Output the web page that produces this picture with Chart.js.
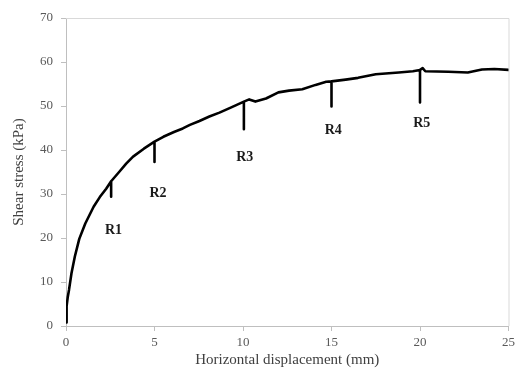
<!DOCTYPE html>
<html>
<head>
<meta charset="utf-8">
<script src="https://cdn.jsdelivr.net/npm/chart.js@4/dist/chart.umd.min.js"></script>
<style>
  html, body { margin: 0; padding: 0; background: #fff; }
  #wrap { width: 519px; height: 376px; position: relative; }
</style>
</head>
<body>
<div id="wrap"><canvas id="shearChart"></canvas></div>
<script>
// Shear stress vs horizontal displacement, with the R1..R5 drops

const dispMm = [
  0, 0.02, 0.05, 0.1, 0.17, 0.31, 0.5, 0.75, 1.09, 1.56,
  1.91, 2.27, 2.55, 2.55, 2.55, 3.0, 3.4, 3.79,
  4.4, 5.0, 5.0, 5.0, 5.5, 6.1, 6.6, 7.0, 7.54, 8.1,
  8.67, 9.4, 10.05, 10.05, 10.05, 10.35, 10.7, 11.3, 12.0, 12.6,
  13.35, 14.1, 14.7, 15.0, 15.0, 15.0, 15.8, 16.5, 17.5, 18.8,
  19.6, 20.0, 20.0, 20.0, 20.15, 20.3, 21.6, 22.7, 23.5, 24.2,
  25.0
];
const stressKPa = [
  0.8, 2.2, 4.5, 6.6, 8.2, 12.0, 15.8, 19.8, 23.3, 27.1,
  29.3, 31.2, 32.9, 29.4, 32.9, 35.0, 36.9, 38.5,
  40.3, 41.9, 37.3, 41.9, 43.0, 44.1, 44.9, 45.7, 46.6, 47.6,
  48.5, 49.8, 51.0, 44.7, 51.0, 51.5, 51.0, 51.7, 53.1, 53.5,
  53.8, 54.8, 55.5, 55.6, 49.9, 55.6, 56.0, 56.4, 57.2, 57.6,
  57.9, 58.2, 50.8, 58.2, 58.6, 57.9, 57.8, 57.6, 58.3, 58.4,
  58.2
];

const markerNames = ['R1', 'R2', 'R3', 'R4', 'R5'];
const markerX = [2.68, 5.2, 10.1, 15.1, 20.1];
const markerY = [21.8, 30.2, 38.3, 44.4, 46.1];

const xTicks = [0, 5, 10, 15, 20, 25];
const yTicks = [0, 10, 20, 30, 40, 50, 60, 70];

const serif = '"Liberation Serif", "Times New Roman", serif';

const points = dispMm.map((x, i) => ({ x: x, y: stressKPa[i] }));

// light frame on the top and right of the plot area
const plotFrame = {
  id: 'plotFrame',
  beforeDatasetsDraw(chart) {
    const { ctx, chartArea: a } = chart;
    ctx.save();
    ctx.strokeStyle = '#d9d9d9';
    ctx.lineWidth = 1;
    ctx.beginPath();
    ctx.moveTo(a.left, a.top + 0.5);
    ctx.lineTo(a.right + 0.5, a.top + 0.5);
    ctx.lineTo(a.right + 0.5, a.bottom);
    ctx.stroke();
    ctx.restore();
  }
};

const markerLabels = {
  id: 'markerLabels',
  afterDatasetsDraw(chart) {
    const { ctx, scales } = chart;
    ctx.save();
    ctx.font = 'bold 14px ' + serif;
    ctx.fillStyle = '#1a1a1a';
    ctx.textAlign = 'center';
    ctx.textBaseline = 'middle';
    markerNames.forEach((name, i) => {
      ctx.fillText(name, scales.x.getPixelForValue(markerX[i]), scales.y.getPixelForValue(markerY[i]));
    });
    ctx.restore();
  }
};

new Chart(document.getElementById('shearChart'), {
  type: 'scatter',
  data: {
    datasets: [{
      data: points,
      showLine: true,
      borderColor: '#000',
      borderWidth: 2.6,
      borderJoinStyle: 'round',
      borderCapStyle: 'round',
      pointRadius: 0,
      tension: 0
    }]
  },
  options: {
    responsive: true,
    maintainAspectRatio: false,
    animation: false,
    layout: { padding: { top: 18, right: 9, bottom: 0, left: 0 } },
    plugins: {
      legend: { display: false },
      tooltip: { enabled: false }
    },
    scales: {
      x: {
        type: 'linear',
        min: 0,
        max: 25,
        afterBuildTicks: (s) => { s.ticks = xTicks.map(v => ({ value: v })); },
        afterFit: (s) => { s.height = 50; },
        ticks: { color: '#595959', font: { family: serif, size: 13 }, padding: 4 },
        grid: { drawOnChartArea: false, drawTicks: true, tickLength: 5, color: '#bfbfbf' },
        border: { color: '#bfbfbf' },
        title: {
          display: true,
          text: 'Horizontal displacement (mm)',
          color: '#404040',
          font: { family: serif, size: 15 },
          padding: { top: 0, bottom: 7 }
        }
      },
      y: {
        min: 0,
        max: 70,
        afterBuildTicks: (s) => { s.ticks = yTicks.map(v => ({ value: v })); },
        afterFit: (s) => { s.width = 66; },
        ticks: { color: '#595959', font: { family: serif, size: 13 }, padding: 8 },
        grid: { drawOnChartArea: false, drawTicks: true, tickLength: 5, color: '#bfbfbf' },
        border: { color: '#bfbfbf' },
        title: {
          display: true,
          text: 'Shear stress (kPa)',
          color: '#404040',
          font: { family: serif, size: 15 },
          padding: { top: 10, bottom: 0 }
        }
      }
    }
  },
  plugins: [plotFrame, markerLabels]
});
</script>
</body>
</html>
